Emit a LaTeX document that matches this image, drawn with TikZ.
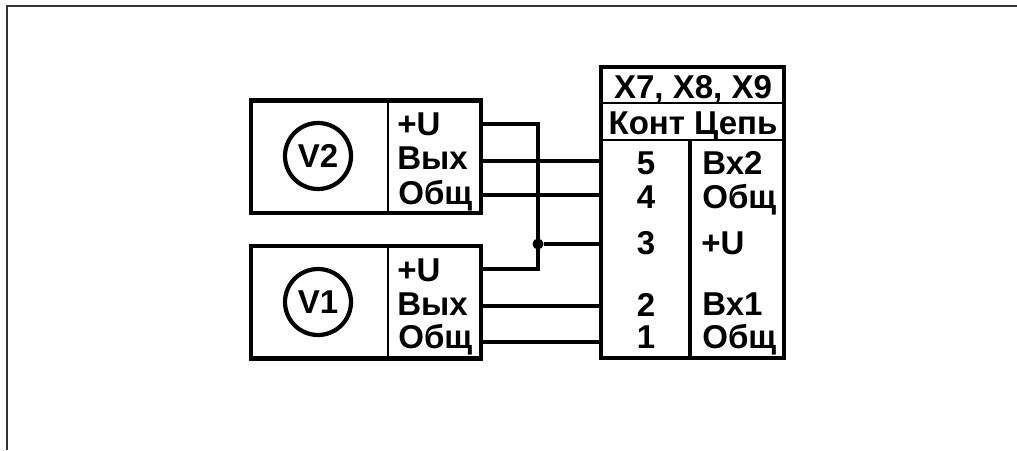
\documentclass[tikz,border=0pt]{standalone}
\usepackage{fontspec}
\setmainfont{Liberation Sans}
\usepackage{tikz}
\usetikzlibrary{positioning}
\newcommand{\pinfont}{\fontsize{18.8}{20}\selectfont\bfseries}
\tikzset{
    frameline/.style={line width=0.8pt, draw=black!80},
    devicebox/.style={draw, line width=2.4pt, minimum width=4.6cm, minimum height=2.25cm, inner sep=0pt},
    dial/.style={circle, draw, line width=2.4pt, minimum size=1.32cm, inner sep=0pt, font=\pinfont},
    pinlabel/.style={anchor=base west, inner sep=0pt, font=\pinfont},
    pinnumber/.style={anchor=base, inner sep=0pt, font=\pinfont},
    wire/.style={line width=2.1pt},
    thinsep/.style={line width=1.1pt},
    junction/.style={circle, fill, inner sep=0pt, minimum size=0.22cm}
}

\begin{document}
\begin{tikzpicture}[x=0.02cm, y=-0.02cm]
    \useasboundingbox (0,0) rectangle (1017,450);
    % outer frame
    \coordinate (frameleft)  at (7,450);
    \coordinate (framecorner) at (7,6);
    \coordinate (frameright) at (1017,6);
    \draw[frameline] (frameleft) -- (framecorner) -- (frameright);

    % voltmeters
    \node[devicebox] (v2box) at (366,156.75) {};
    \node[devicebox] (v1box) at (366,302.25) {};
    \node[dial] (v2) at (318,156) {V2};
    \node[dial] (v1) at (318,302) {V1};
    \draw[thinsep] (388,100) coordinate (v2top) -- (388,213);
    \draw[thinsep] (388,246) coordinate (v1top) -- (388,358);

    \node[pinlabel] (v2plus) at (397,135) {+U};
    \node[pinlabel] (v2out)  at (397,169) {Вых};
    \node[pinlabel] (v2gnd)  at (398,204) {Общ};
    \node[pinlabel] (v1plus) at (397,281) {+U};
    \node[pinlabel] (v1out)  at (397,315) {Вых};
    \node[pinlabel] (v1gnd)  at (398,348) {Общ};

    % connector block
    \node[draw, line width=2.4pt, minimum width=3.66cm, minimum height=5.82cm, inner sep=0pt] (conn) at (692.5,212.5) {};
    \draw[thinsep] (conn.west |- 0,103) -- (conn.east |- 0,103);
    \draw[line width=1.6pt] (conn.west |- 0,140) -- (conn.east |- 0,140);
    \draw[line width=2.4pt] (690,140) -- (690,358);

    \node[pinnumber] (title) at (693,98) {X7, X8, X9};
    \node[pinnumber] (head)  at (693,134) {Конт Цепь};

    \node[pinnumber] (c5) at (646,174) {5};
    \node[pinnumber] (c4) at (646,208) {4};
    \node[pinnumber] (c3) at (646,254) {3};
    \node[pinnumber] (c2) at (646,316) {2};
    \node[pinnumber] (c1) at (646,348) {1};

    \node[pinlabel] (n5) at (702,174) {Вх2};
    \node[pinlabel] (n4) at (702,208) {Общ};
    \node[pinlabel] (n3) at (701,254) {+U};
    \node[pinlabel] (n2) at (702,315) {Вх1};
    \node[pinlabel] (n1) at (702,348) {Общ};

    % wires
    \node[junction] (tap) at (538,244) {};
    \coordinate (bustop) at (538,124);
    \coordinate (busbot) at (538,269);
    \path
        (v2box.east |- 0,124)
            edge [wire, line cap=rect] (bustop)
        (bustop)
            edge [wire, line cap=rect] (busbot)
        (busbot)
            edge [wire, line cap=rect] (v1box.east |- 0,269)
        (tap)
            edge [wire] (conn.west |- 0,244)
        (v2box.east |- 0,161)
            edge [wire] (conn.west |- 0,161)
        (v2box.east |- 0,195)
            edge [wire] (conn.west |- 0,195)
        (v1box.east |- 0,306)
            edge [wire] (conn.west |- 0,306)
        (v1box.east |- 0,342)
            edge [wire] (conn.west |- 0,342)
        ;
\end{tikzpicture}
\end{document}
